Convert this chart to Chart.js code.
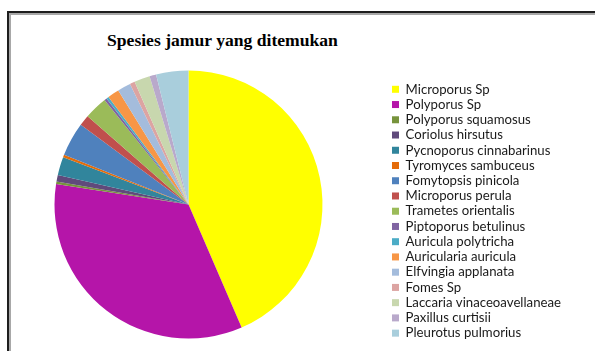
<!DOCTYPE html>
<html>
<head>
<meta charset="utf-8">
<script src="https://cdn.jsdelivr.net/npm/chart.js"></script>
<style>
  html, body { margin: 0; padding: 0; width: 595px; height: 351px; overflow: hidden; background: #fff; }
  #frame1 { position: absolute; left: 7px; top: 11px; width: 640px; height: 400px; border-left: 2px solid #1e1e1e; border-top: 2px solid #1e1e1e; }
  #frame2 { position: absolute; left: 0; top: 0; width: 640px; height: 400px; border-left: 2px solid #a8a8a8; border-top: 2px solid #a8a8a8; }
  #title { position: absolute; left: 107px; top: 29px; font: bold 17.6px "Liberation Serif", "Times New Roman", serif; line-height: 22px; color: #000; white-space: nowrap; }
  #c { position: absolute; left: -20px; top: 0; }
</style>
</head>
<body>
<div id="frame1"><div id="frame2"></div></div>
<div id="title">Spesies jamur yang ditemukan</div>
<canvas id="c" width="640" height="351"></canvas>
<script>
const categories = [
  "Microporus Sp", "Polyporus Sp", "Polyporus squamosus", "Coriolus hirsutus",
  "Pycnoporus cinnabarinus", "Tyromyces sambuceus", "Fomytopsis pinicola",
  "Microporus perula", "Trametes orientalis", "Piptoporus betulinus",
  "Auricula polytricha", "Auricularia auricula", "Elfvingia applanata",
  "Fomes Sp", "Laccaria vinaceoavellaneae", "Paxillus curtisii", "Pleurotus pulmorius"
];
const values = [43.6, 34.0, 0.3, 0.8, 2.2, 0.3, 4.1, 1.3, 2.8, 0.3, 0.3, 1.4, 1.6, 0.6, 1.9, 0.8, 3.9];
const colors = [
  "#FFFF00", "#B515A9", "#77933C", "#604A7B", "#31859C", "#E46C0A", "#4F81BD",
  "#C0504D", "#9BBB59", "#8064A2", "#4BACC6", "#F79646", "#A4BCDC", "#DCA4A2",
  "#C8D7AE", "#B9A9CB", "#A9CEDC"
];

// layout helpers (page coordinates)
const canvasLeft = -20, canvasW = 640;
const legendFont = { family: "Lato", size: 13.2 };
const rowStep = 15.24;
const labelPad = rowStep - legendFont.size, boxW = 7;
const pieCx = 188.5;
const legendItemX = 392;

const mctx = document.createElement('canvas').getContext('2d');
mctx.font = legendFont.size + 'px ' + legendFont.family;
let maxTextW = 0;
categories.forEach(t => { maxTextW = Math.max(maxTextW, mctx.measureText(t).width); });
const legendW = labelPad + boxW + legendFont.size / 2 + maxTextW + 10;
const legendLeftPage = legendItemX - labelPad;
const padLeft = (2 * pieCx - legendLeftPage) - canvasLeft;
const padRight = (canvasLeft + canvasW) - (legendLeftPage + legendW);
// first legend row: text centre at y ~ 89.3
const padTop = 60;
const legendTitleH = (89.3 - legendFont.size / 2) - labelPad - padTop;

new Chart(document.getElementById('c'), {
  type: 'pie',
  data: {
    labels: categories,
    datasets: [{
      data: values,
      backgroundColor: colors,
      borderWidth: 0,
      radius: 134
    }]
  },
  options: {
    responsive: false,
    animation: false,
    devicePixelRatio: 1,
    layout: { padding: { left: padLeft, right: padRight, top: padTop, bottom: 2 } },
    plugins: {
      tooltip: { enabled: false },
      title: { display: false },
      legend: {
        position: 'right',
        align: 'start',
        title: { display: true, text: '', font: { size: 10, lineHeight: 1 }, padding: { top: legendTitleH - 10, bottom: 0 } },
        labels: {
          boxWidth: boxW,
          boxHeight: 7,
          padding: labelPad,
          color: '#1a1a1a',
          font: legendFont
        }
      }
    }
  }
});
</script>
</body>
</html>
